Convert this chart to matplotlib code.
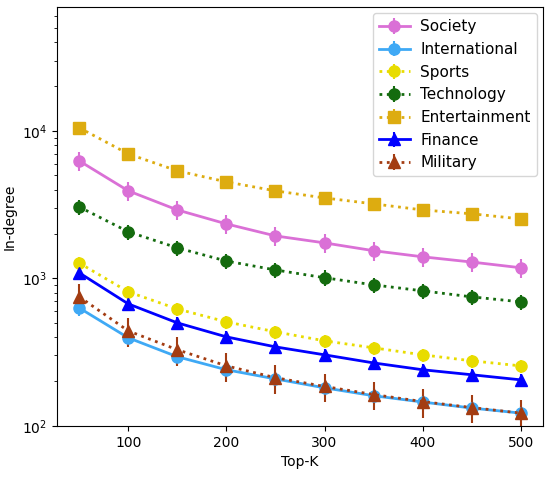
import matplotlib.pyplot as plt
import numpy as np

# top-k values on the x axis
topk = np.array([50, 100, 150, 200, 250, 300, 350, 400, 450, 500])

society = [6260, 3920, 2910, 2340, 1940, 1740, 1540, 1400, 1290, 1180]
international = [630, 395, 294, 240, 208, 181, 160, 145, 132, 122]
sports = [1270, 810, 620, 507, 434, 377, 338, 303, 276, 255]
technology = [3050, 2070, 1610, 1310, 1140, 1010, 903, 823, 749, 693]
entertainment = [10500, 6980, 5360, 4510, 3920, 3510, 3200, 2910, 2740, 2530]
finance = [1090, 671, 499, 401, 343, 303, 267, 240, 222, 205]
military = [750, 440, 328, 255, 212, 185, 163, 146, 133, 122]

# relative error bar size per series
society_err = 0.15
international_err = 0.12
sports_err = 0.1
technology_err = 0.12
entertainment_err = 0.08
finance_err = 0.1
military_err = 0.22

fig = plt.figure(figsize=(5.5, 4.79), dpi=100)
ax = fig.add_axes([0.104, 0.111, 0.883, 0.874])

series = [
    ("Society", society, society_err, "orchid", "o", "-"),
    ("International", international, international_err, "#3fa9f5", "o", "-"),
    ("Sports", sports, sports_err, "#e8dc00", "o", ":"),
    ("Technology", technology, technology_err, "#146b0e", "o", ":"),
    ("Entertainment", entertainment, entertainment_err, "#ddac10", "s", ":"),
    ("Finance", finance, finance_err, "blue", "^", "-"),
    ("Military", military, military_err, "#a33c12", "^", ":"),
]

for name, vals, err, col, mk, ls in series:
    vals = np.array(vals)
    ax.errorbar(topk, vals, yerr=vals * err, color=col, marker=mk, ls=ls,
                lw=2, ms=8, elinewidth=1.5, label=name)

ax.set_yscale("log")
ax.set_ylim(100, 69000)
ax.set_xticks([100, 200, 300, 400, 500])
ax.tick_params(labelsize=10)
ax.set_xlabel("Top-K", fontsize=10)
ax.set_ylabel("In-degree", fontsize=10)
ax.legend(loc="upper right", fontsize=11, handletextpad=0.7,
          borderaxespad=0.4)

plt.savefig("out.png", dpi=100)
